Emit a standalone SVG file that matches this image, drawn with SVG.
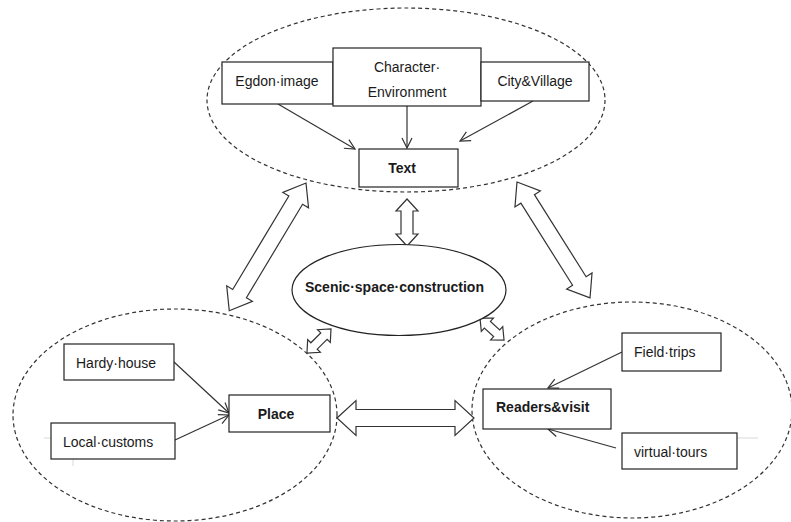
<svg xmlns="http://www.w3.org/2000/svg" width="791" height="522" viewBox="0 0 791 522">
<style>
.bg{fill:#ffffff}
.grp{fill:none;stroke:#333;stroke-width:1.2;stroke-dasharray:4 3}
.box{fill:#fff;stroke:#222;stroke-width:1.2}
.t{font-family:"Liberation Sans",Arial,sans-serif;font-size:14px;fill:#1a1a1a}
.b{font-weight:bold}
.c{text-anchor:middle}
.ln{fill:none;stroke:#333;stroke-width:1.2;marker-end:url(#v)}
.blk{fill:#fff;stroke:#333;stroke-width:1.2;stroke-linejoin:miter}
.faint{stroke:#d9d9d9;stroke-width:1;fill:none}
</style>
<defs>
<marker id="v" viewBox="0 0 12 12" refX="11" refY="6" markerWidth="12" markerHeight="12" markerUnits="userSpaceOnUse" orient="auto">
<path d="M1,1 L11,6 L1,11" fill="none" stroke="#333" stroke-width="1.2"/>
</marker>
</defs>
<rect class="bg" x="0" y="0" width="791" height="522"/>

<g id="faint-lines">
<line class="faint" x1="44" y1="438" x2="51" y2="438"/>
<line class="faint" x1="73" y1="459" x2="73" y2="466"/>
<line class="faint" x1="737" y1="438" x2="758" y2="438"/>
</g>

<g id="group-text">
<ellipse class="grp" cx="406" cy="100" rx="199" ry="92"/>
</g>
<g id="group-place">
<ellipse class="grp" cx="175" cy="415" rx="162" ry="106"/>
</g>
<g id="group-readers">
<ellipse class="grp" cx="632" cy="410" rx="160" ry="108"/>
</g>

<g id="connectors">
<line class="ln" x1="278" y1="104" x2="355" y2="149"/>
<line class="ln" x1="407" y1="106" x2="407" y2="148"/>
<line class="ln" x1="533" y1="101" x2="460" y2="141"/>
<line class="ln" x1="174" y1="362" x2="229" y2="413"/>
<line class="ln" x1="175" y1="440" x2="229" y2="415"/>
<line class="ln" x1="622" y1="352" x2="548" y2="388"/>
<line class="ln" x1="616" y1="448" x2="548" y2="429"/>
<polygon class="blk" transform="translate(306,183) rotate(121)" points="0,0 20,-15 20,-8 129,-8 129,-15 149,0 129,15 129,8 20,8 20,15"/>
<polygon class="blk" transform="translate(517,182) rotate(57.8)" points="0,0 20,-15 20,-8 117,-8 117,-15 137,0 117,15 117,8 20,8 20,15"/>
<polygon class="blk" transform="translate(407,199) rotate(90)" points="0,0 12,-11 12,-6 35,-6 35,-11 47,0 35,11 35,6 12,6 12,11"/>
<polygon class="blk" transform="translate(337,418)" points="0,0 19,-17.5 19,-8.5 118,-8.5 118,-17.5 137,0 118,17.5 118,8.5 19,8.5 19,17.5"/>
<polygon class="blk" transform="translate(331,329) rotate(135)" points="0,0 10,-9 10,-4.5 24,-4.5 24,-9 34,0 24,9 24,4.5 10,4.5 10,9"/>
<polygon class="blk" transform="translate(480,318) rotate(42.5)" points="0,0 10,-9 10,-4.5 22.6,-4.5 22.6,-9 32.6,0 22.6,9 22.6,4.5 10,4.5 10,9"/>
</g>

<g id="egdon">
<rect class="box" x="222" y="62" width="111" height="42"/>
<text class="t c" x="277" y="86">Egdon·image</text>
</g>
<g id="character">
<rect class="box" x="333" y="48" width="148" height="58"/>
<text class="t c" x="407" y="72">Character·</text>
<text class="t c" x="407" y="97">Environment</text>
</g>
<g id="city">
<rect class="box" x="481" y="62" width="108" height="39"/>
<text class="t c" x="535" y="86">City&amp;Village</text>
</g>
<g id="text">
<rect class="box" x="359" y="149" width="99" height="38"/>
<text class="t b c" x="402" y="173">Text</text>
</g>

<g id="scenic">
<ellipse fill="#fff" stroke="#222" stroke-width="1.2" cx="399" cy="290" rx="107" ry="45.5"/>
<text class="t b" x="305" y="292">Scenic·space·construction</text>
</g>

<g id="hardy">
<rect class="box" x="64" y="344" width="110" height="36"/>
<text class="t" x="76" y="368">Hardy·house</text>
</g>
<g id="local">
<rect class="box" x="51" y="423" width="124" height="36"/>
<text class="t" x="63" y="447">Local·customs</text>
</g>
<g id="place">
<rect class="box" x="229" y="395" width="101" height="37"/>
<text class="t b c" x="276" y="419">Place</text>
</g>

<g id="readers">
<rect class="box" x="483" y="389" width="128" height="40"/>
<text class="t b" x="496" y="412">Readers&amp;visit</text>
</g>
<g id="field">
<rect class="box" x="622" y="333" width="99" height="38"/>
<text class="t" x="634" y="357">Field·trips</text>
</g>
<g id="virtual">
<rect class="box" x="622" y="433" width="115" height="36"/>
<text class="t" x="634" y="457">virtual·tours</text>
</g>
</svg>
